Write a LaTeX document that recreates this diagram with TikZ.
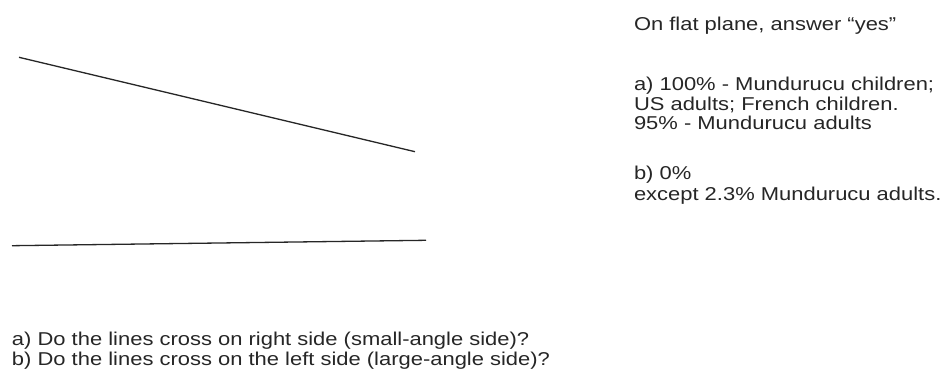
\documentclass[tikz,border=0pt]{standalone}
\usepackage{fontspec}
\setmainfont[FakeStretch=1.18]{Liberation Sans}
\begin{document}
\begin{tikzpicture}[x=1pt,y=-1pt,
  txt/.style={anchor=base west,inner sep=0pt,outer sep=0pt,text=black!85,font=\fontsize{18.6}{19}\selectfont},
  seg/.style={draw=black!85,line width=1.3pt}]
\useasboundingbox[fill=white] (0,0) rectangle (948,374);
\coordinate (a1) at (19,57.3);
\coordinate (a2) at (415,151.7);
\coordinate (b1) at (12,245.7);
\coordinate (b2) at (426,240.3);
\draw[seg] (a1) -- (a2);
\draw[seg] (b1) -- (b2);
\node[txt] (r1) at (634,31) {On flat plane, answer “yes”};
\node[txt] (r2) at (634,91) {a) 100\% - Mundurucu children;};
\node[txt] (r3) at (634,110.5) {US adults; French children.};
\node[txt] (r4) at (634,130) {95\% - Mundurucu adults};
\node[txt] (r5) at (634,180) {b) 0\%};
\node[txt] (r6) at (634,201) {except 2.3\% Mundurucu adults.};
\node[txt] (q1) at (12,345.7) {a) Do the lines cross on right side (small-angle side)?};
\node[txt] (q2) at (12,365) {b) Do the lines cross on the left side (large-angle side)?};
\end{tikzpicture}
\end{document}
